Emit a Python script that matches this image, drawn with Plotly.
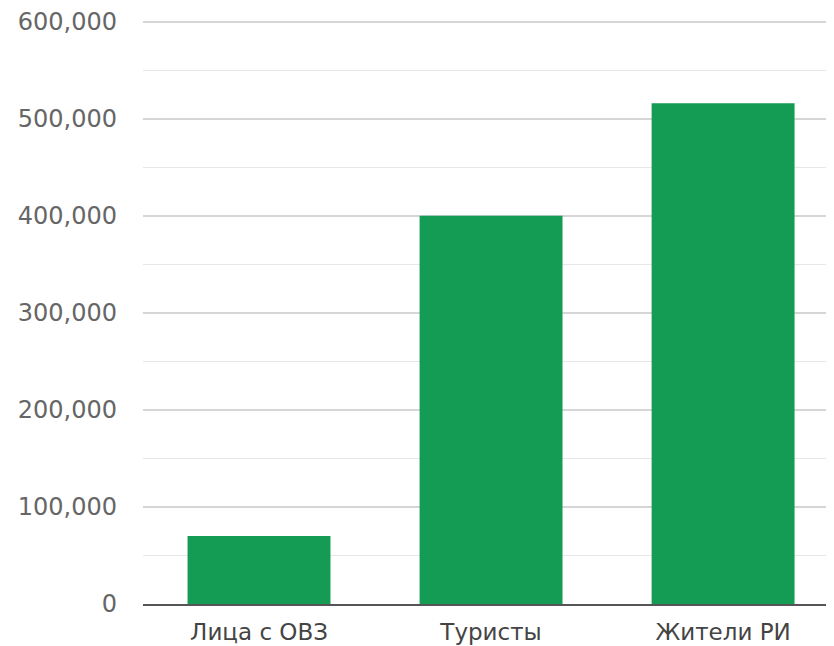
import plotly.graph_objects as go

categories = ["Лица с ОВЗ", "Туристы", "Жители РИ"]
values = [70000, 400000, 516000]
y_ticks = [0, 100000, 200000, 300000, 400000, 500000, 600000]
y_tick_labels = ["0", "100,000", "200,000", "300,000", "400,000", "500,000", "600,000"]

fig = go.Figure(go.Bar(
    x=categories, y=values,
    marker=dict(color="#149c55", line=dict(width=0)),
    width=0.616,
))

fig.update_layout(
    width=826, height=638,
    margin=dict(l=135, r=0, t=12, b=42),
    paper_bgcolor="white", plot_bgcolor="white",
    font=dict(family="DejaVu Sans", size=23, color="#555555"),
    showlegend=False,
)
fig.update_xaxes(
    range=[-0.5, 2.478],
    showline=True, linecolor="#555555", linewidth=2,
    showgrid=False, ticks="", ticklabelstandoff=6,
    tickfont=dict(size=23, color="#444444"),
)
fig.update_yaxes(
    range=[0, 601800],
    tickvals=y_ticks, ticktext=y_tick_labels,
    showgrid=True, gridcolor="#d6d6d6", gridwidth=1.5,
    zeroline=False,
    minor=dict(dtick=50000, showgrid=True, gridcolor="#e6e6e6", gridwidth=1),
    ticks="", ticklabelstandoff=25,
    tickfont=dict(size=24, color="#666666"),
)

fig.write_html("out.html")
